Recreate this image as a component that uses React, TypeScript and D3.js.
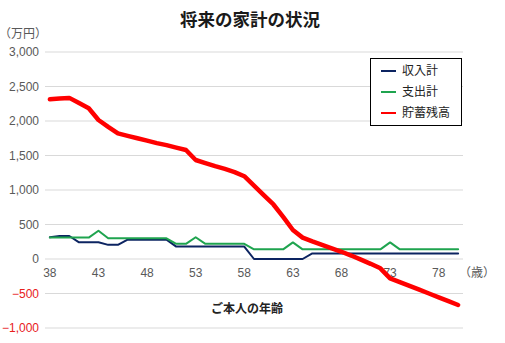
import React from "react";
import * as d3 from "d3";

const ages: number[] = d3.range(38, 81);

const income: number[] = [
  315, 333, 333, 242, 242, 242, 205, 205, 280, 280,
  280, 280, 280, 180, 180, 180, 180, 180, 180, 180,
  180, 0, 0, 0, 0, 0, 0, 80, 80, 80,
  80, 80, 80, 80, 80, 80, 80, 80, 80, 80,
  80, 80, 80,
];

const expense: number[] = [
  310, 310, 310, 310, 310, 410, 300, 300, 300, 300,
  300, 300, 300, 220, 220, 315, 220, 220, 220, 220,
  220, 140, 140, 140, 140, 240, 140, 140, 140, 140,
  140, 140, 140, 140, 140, 240, 140, 140, 140, 140,
  140, 140, 140,
];

const savings: number[] = [
  2315, 2325, 2335, 2260, 2185, 2015, 1915, 1820, 1785, 1750,
  1715, 1680, 1650, 1615, 1580, 1435, 1390, 1345, 1305, 1260,
  1200, 1065, 925, 790, 610, 420, 310, 255, 205, 155,
  105, 50, -10, -70, -135, -280, -335, -390, -445, -500,
  -555, -610, -667,
];

const yTicks: number[] = [-1000, -500, 0, 500, 1000, 1500, 2000, 2500, 3000];
const xTickAges: number[] = [38, 43, 48, 53, 58, 63, 68, 73, 78];

const seriesNames = ["収入計", "支出計", "貯蓄残高"];
const seriesColors = ["#0c2461", "#1fa44f", "#ff0000"];
const seriesWidths = [2, 2, 4.5];

const FONT = "'Liberation Sans', Arial, 'Noto Sans CJK JP', sans-serif";

export default function App() {
  const W = 505;
  const H = 343;
  const x = d3.scalePoint<number>().domain(ages).range([45, 463]).padding(0.5);
  const y = d3.scaleLinear().domain([-1000, 3000]).range([328, 52]);
  const fmt = d3.format(",");

  const line = d3
    .line<number>()
    .x((_, i) => x(ages[i]) as number)
    .y((d) => y(d));

  const data = [income, expense, savings];

  return (
    <svg
      width={W}
      height={H}
      style={{ position: "absolute", left: 0, top: 0, background: "#fff" }}
      fontFamily={FONT}
    >
      <rect x={0} y={0} width={W} height={H} fill="#fff" />
      <text
        x={250}
        y={26}
        textAnchor="middle"
        fontSize={17.5}
        fontWeight="bold"
        fill="#1a1a1a"
        fontFamily="'Noto Sans CJK JP', sans-serif"
      >
        将来の家計の状況
      </text>
      <text x={-1} y={38} fontSize={12} fill="#595959" fontFamily="'Noto Sans CJK JP', sans-serif">
        （万円）
      </text>

      {yTicks.map((t) => (
        <g key={t}>
          <line x1={45} x2={463} y1={y(t)} y2={y(t)} stroke="#d9d9d9" strokeWidth={1} />
          <text
            x={39}
            y={y(t)}
            dy="0.35em"
            textAnchor="end"
            fontSize={12}
            fill={t < 0 ? "#e8201c" : "#595959"}
          >
            {fmt(t)}
          </text>
        </g>
      ))}

      {xTickAges.map((a) => (
        <text key={a} x={x(a) as number} y={277} textAnchor="middle" fontSize={12} fill="#595959">
          {a}
        </text>
      ))}
      <text x={459} y={277} fontSize={12} fill="#595959" fontFamily="'Noto Sans CJK JP', sans-serif">
        （歳）
      </text>
      <text
        x={247}
        y={313}
        textAnchor="middle"
        fontSize={12}
        fontWeight="bold"
        fill="#222"
        fontFamily="'Noto Sans CJK JP', sans-serif"
      >
        ご本人の年齢
      </text>

      {data.map((d, i) => (
        <path
          key={i}
          d={line(d) || ""}
          fill="none"
          stroke={seriesColors[i]}
          strokeWidth={seriesWidths[i]}
          strokeLinejoin="round"
          strokeLinecap="round"
        />
      ))}

      <g>
        <rect x={370.5} y={58.5} width={91} height={67} fill="#fff" stroke="#000" strokeWidth={1} />
        {seriesNames.map((n, i) => (
          <g key={n} transform={`translate(0, ${71 + i * 21})`}>
            <line x1={381} x2={396} y1={0} y2={0} stroke={seriesColors[i]} strokeWidth={2} />
            <text
              x={402}
              y={0}
              dy="0.35em"
              fontSize={12}
              fill="#222"
              fontFamily="'Noto Sans CJK JP', sans-serif"
            >
              {n}
            </text>
          </g>
        ))}
      </g>
    </svg>
  );
}
